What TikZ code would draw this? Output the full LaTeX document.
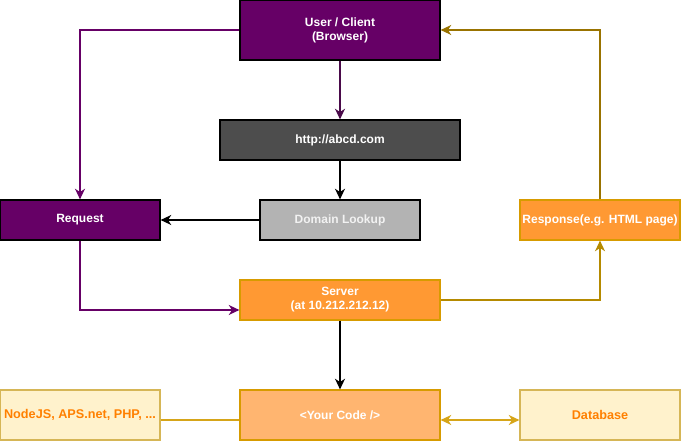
\documentclass[tikz,border=0pt]{standalone}
\usepackage{fontspec}
\setmainfont{Liberation Sans}
\usetikzlibrary{arrows.meta}
\definecolor{purp}{HTML}{660066}
\definecolor{dpurp}{HTML}{4A0A4A}
\definecolor{darkg}{HTML}{4D4D4D}
\definecolor{lgray}{HTML}{B3B3B3}
\definecolor{orng}{HTML}{FF9933}
\definecolor{orngb}{HTML}{D79B00}
\definecolor{lorng}{HTML}{FFB570}
\definecolor{cream}{HTML}{FFF2CC}
\definecolor{creamb}{HTML}{D6B656}
\definecolor{txtor}{HTML}{FF8000}
\definecolor{gold}{HTML}{997300}
\definecolor{gold2}{HTML}{B58A00}
\definecolor{gold3}{HTML}{D6A519}
\begin{document}
\begin{tikzpicture}[x=0.75pt,y=-0.75pt,
  >={Stealth[length=8pt,width=7.5pt,inset=2.5pt]},
  box/.style={draw, line width=0.9pt, minimum width=#1*0.75pt, inner sep=0pt, align=center, font=\fontsize{9}{10.5}\selectfont\bfseries, text=white},
  conn/.style={line width=1.1pt, ->},
  plain/.style={line width=1.1pt}]
\useasboundingbox (0,0) rectangle (681,441);
\node[box=200, minimum height=45pt, fill=purp, draw=black] (user) at (340,30) {User / Client\\(Browser)};
\node[box=240, minimum height=30pt, fill=darkg, draw=black] (http) at (340,140) {http://abcd.com};
\node[box=160, minimum height=30pt, fill=lgray, draw=black, text={rgb,255:red,242;green,242;blue,242}] (dns) at (340,220) {Domain Lookup};
\node[box=160, minimum height=30pt, fill=purp, draw=black] (req) at (80,220) {Request};
\node[box=200, minimum height=30pt, fill=orng, draw=orngb] (srv) at (340,300) {Server\\(at 10.212.212.12)};
\node[box=160, minimum height=30pt, fill=orng, draw=orngb] (resp) at (600,220) {Response(e.g. HTML page)};
\node[box=200, minimum height=37.5pt, fill=lorng, draw=orngb] (code) at (340,415) {<Your Code />};
\node[box=160, minimum height=37.5pt, fill=cream, draw=creamb, text=txtor, font=\fontsize{9.5}{11}\selectfont\bfseries] (node) at (80,415) {NodeJS, APS.net, PHP, ...};
\node[box=160, minimum height=37.5pt, fill=cream, draw=creamb, text=txtor, font=\fontsize{9.5}{11}\selectfont\bfseries] (db) at (600,415) {Database};
\coordinate (c1) at (80,30);
\coordinate (c2) at (80,310);
\coordinate (c3) at (600,300);
\coordinate (c4) at (600,30);
\draw[conn, draw=dpurp] (user) -- (http);
\draw[conn, draw=black] (http) -- (dns);
\draw[conn, draw=black] (dns) -- (req);
\draw[conn, draw=purp] (user.west) -- (c1) -- (req.north);
\draw[conn, draw=purp] (req.south) -- (c2) -- (srv.west |- c2);
\draw[conn, draw=gold2] (srv.east) -- (c3) -- (resp.south);
\draw[conn, draw=gold] (resp.north) -- (c4) -- (user.east);
\draw[conn, draw=black] (srv) -- (code);
\draw[plain, draw=gold3] (node.east |- 0,420) -- (code.west |- 0,420);
\draw[plain, draw=gold3, <->] (code.east |- 0,420) -- (db.west |- 0,420);
\end{tikzpicture}
\end{document}
